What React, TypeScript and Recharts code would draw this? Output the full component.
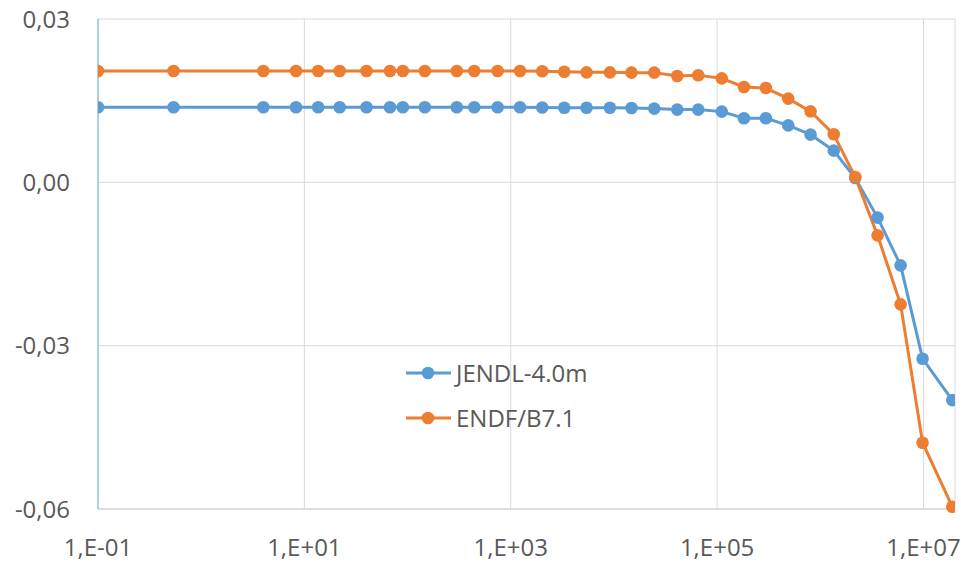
import React from "react";
import { CartesianGrid, Line, LineChart, XAxis, YAxis } from "recharts";

// neutron energy (eV)
const energies = [
  0.1, 0.54, 4, 8.3, 13.6, 22, 40, 67.5, 90, 147, 300, 443, 746, 1230, 2020, 3300, 5430, 9140,
  14800, 24600, 41100, 65600, 111000, 182000, 297000, 489000, 805000, 1.35e6, 2.18e6, 3.59e6, 6.0e6, 9.8e6, 1.9e7,
];

const jendl = [
  0.0138, 0.0138, 0.0138, 0.0138, 0.0138, 0.0138, 0.0138, 0.0138, 0.0138, 0.0138, 0.0138, 0.0138, 0.0138, 0.0138,
  0.01375, 0.0137, 0.0137, 0.0137,
  0.01365, 0.01354, 0.01336, 0.01336, 0.01299, 0.01176, 0.01176, 0.01047, 0.00876, 0.00582, 0.0008,
  -0.00648, -0.01525, -0.03239, -0.04,
];

const endf = [
  0.02045, 0.02045, 0.02045, 0.02045, 0.02045, 0.02045, 0.02045, 0.02045, 0.02045, 0.02045, 0.02045, 0.02045, 0.02045, 0.02045,
  0.0204, 0.0203, 0.0202, 0.0202,
  0.02015, 0.02015, 0.01953, 0.01966, 0.0191, 0.01751, 0.01732, 0.01538, 0.01304, 0.00882, 0.00097,
  -0.00974, -0.02241, -0.04782, -0.05958,
];

const xTicks = [0.1, 10, 1000, 1e5, 1e7];
const yTicks = [-0.06, -0.03, 0, 0.03];

const series = [
  { key: "jendl", name: "JENDL-4.0m", colour: "#5B9BD5" },
  { key: "endf", name: "ENDF/B7.1", colour: "#ED7D31" },
];

const data = energies.map((e, i) => ({ e, jendl: jendl[i], endf: endf[i] }));

const font = "'Open Sans', 'Noto Sans', sans-serif";
const textColour = "#595959";

const fmtX = (v: number) => {
  const p = Math.round(Math.log10(v));
  return `1,E${p < 0 ? "-" : "+"}${String(Math.abs(p)).padStart(2, "0")}`;
};
const fmtY = (v: number) => v.toFixed(2).replace(".", ",");

// legend sits inside the plot area, so it is drawn over the chart
const LegendBox = () => (
  <div style={{ position: "absolute", left: 406, top: 350, fontFamily: font, fontSize: 24, color: textColour }}>
    {series.map((s) => (
      <div key={s.key} style={{ display: "flex", alignItems: "center", height: 45 }}>
        <svg width={49} height={14} style={{ marginRight: 1 }}>
          <line x1={0} y1={7} x2={45} y2={7} stroke={s.colour} strokeWidth={3} />
          <circle cx={22} cy={7} r={6.3} fill={s.colour} />
        </svg>
        <span>{s.name}</span>
      </div>
    ))}
  </div>
);

export default function App() {
  return (
    <div style={{ position: "absolute", left: 0, top: 0, width: 961, height: 562, background: "#fff" }}>
      <LineChart width={961} height={562} data={data} margin={{ top: 19, right: 6, left: 0, bottom: 0 }}>
        <CartesianGrid stroke="#d9d9d9" strokeWidth={1} />
        <XAxis
          dataKey="e"
          type="number"
          scale="log"
          domain={[0.1, 2.02e7]}
          allowDataOverflow
          ticks={xTicks}
          tickFormatter={fmtX}
          height={53}
          tickSize={0}
          tickMargin={30}
          axisLine={{ stroke: "#d9d9d9", strokeWidth: 1.5 }}
          tickLine={false}
          tick={{ fill: textColour, fontSize: 24, fontFamily: font }}
        />
        <YAxis
          type="number"
          domain={[-0.06, 0.03]}
          ticks={yTicks}
          tickFormatter={fmtY}
          width={98}
          tickSize={0}
          tickMargin={28}
          axisLine={{ stroke: "#9DC3E6", strokeWidth: 1.5 }}
          tickLine={false}
          tick={{ fill: textColour, fontSize: 24, fontFamily: font }}
        />
        {series.map((s) => (
          <Line
            key={s.key}
            dataKey={s.key}
            name={s.name}
            stroke={s.colour}
            strokeWidth={3}
            dot={{ r: 6.3, fill: s.colour, stroke: "none" }}
            activeDot={false}
            isAnimationActive={false}
          />
        ))}
      </LineChart>
      <LegendBox />
    </div>
  );
}
